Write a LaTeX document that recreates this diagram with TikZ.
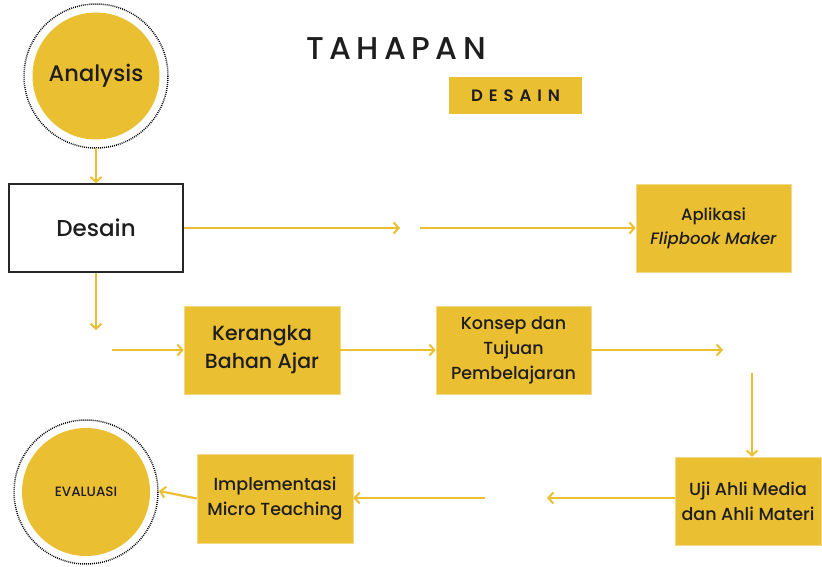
\documentclass[tikz,border=0pt]{standalone}
\usepackage{fontspec}
\setmainfont{Poppins Medium}[ItalicFont=Poppins Medium Italic]
\newfontfamily\titlefont[LetterSpace=17]{Poppins Medium}
\newfontfamily\tagfont[LetterSpace=36]{Poppins SemiBold}
\usetikzlibrary{arrows.meta}
\definecolor{gold}{RGB}{235,191,50}
\definecolor{ink}{RGB}{30,30,30}
\tikzset{
  flow/.style={draw=gold, line width=2.2pt, -{Straight Barb[length=5pt,width=11pt,line width=2pt]}},
  ybox/.style={fill=gold, draw=gold!60!white, line width=0.6pt, align=center, inner sep=0pt, text=ink, font=\fontsize{17}{25}\selectfont},
  ycirc/.style={circle, fill=gold, inner sep=0pt, text=ink, minimum size=127pt},
  ring/.style={draw=black, line width=1.5pt, dash pattern=on 0.9pt off 1.1pt}
}
\begin{document}
\begin{tikzpicture}[x=1pt,y=-1pt]
\useasboundingbox (0,0) rectangle (822,567);
\fill[white] (0,0) rectangle (822,567);
% title
\node[text=ink] (title) at (396,49) {\titlefont\fontsize{31.5}{34}\selectfont TAHAPAN};
\node[fill=gold, minimum width=133pt, minimum height=37pt, inner sep=0pt, text=ink] (tag) at (515.5,95.5) {\tagfont\fontsize{16.5}{18}\selectfont DESAIN};
% Analysis
\draw[ring] (96,76) circle (72);
\node[ycirc] (analysis) at (96,76) {\fontsize{22.5}{24}\selectfont Analysis};
\coordinate (aout) at (96,148);
% Desain
\node[draw=black!85, line width=1.4pt, fill=white, text=ink, minimum width=174pt, minimum height=88pt, inner sep=0pt] (desain) at (96,228) {\fontsize{23}{24}\selectfont Desain};
\draw[flow] (aout) -- (desain.north);
% Flipbook
\node[ybox, minimum width=155pt, minimum height=88pt, font=\fontsize{16.5}{24}\selectfont] (flip) at (713.5,228) {Aplikasi\\\itshape Flipbook Maker};
\coordinate (g1a) at (400,228);
\coordinate (g1b) at (420,228);
\draw[flow] (desain.east) -- (g1a);
\draw[flow] (g1b) -- (flip.west);
% row 2
\node[ybox, minimum width=156pt, minimum height=88pt, font=\fontsize{20.5}{28}\selectfont] (kerangka) at (262,350) {Kerangka\\Bahan Ajar};
\node[ybox, minimum width=155pt, minimum height=88pt, font=\fontsize{17.5}{25}\selectfont] (konsep) at (513.5,350) {Konsep dan\\Tujuan\\Pembelajaran};
\coordinate (d1) at (96,330);
\coordinate (r2s) at (112,350);
\coordinate (r2e) at (723,350);
\coordinate (vs) at (752,373);
\draw[flow] (desain.south) -- (d1);
\draw[flow] (r2s) -- (kerangka.west);
\draw[flow] (kerangka.east) -- (konsep.west);
\draw[flow] (konsep.east) -- (r2e);
% row 3
\node[ybox, minimum width=146pt, minimum height=88pt, font=\fontsize{17.5}{25}\selectfont] (uji) at (748,501) {Uji Ahli Media\\dan Ahli Materi};
\draw[flow] (vs) -- (uji.north -| vs);
\node[ybox, minimum width=156pt, minimum height=89pt, font=\fontsize{17.5}{25}\selectfont] (impl) at (275,498.5) {Implementasi\\Micro Teaching};
\coordinate (g3a) at (547,498);
\coordinate (g3b) at (485,498);
\draw[flow] (uji.west |- g3a) -- (g3a);
\draw[flow] (g3b) -- (impl.east |- g3b);
% Evaluasi
\draw[ring] (86,492) circle (72);
\node[ycirc, minimum size=128pt] (eval) at (86,492) {\fontsize{13.5}{14}\selectfont EVALUASI};
\coordinate (ein) at (159,491);
\draw[flow] (impl.west) -- (ein);
\end{tikzpicture}
\end{document}
